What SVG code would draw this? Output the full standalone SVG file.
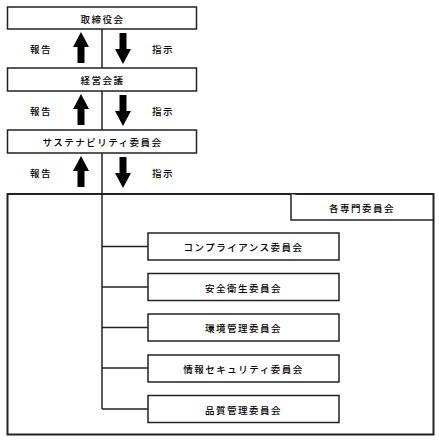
<svg xmlns="http://www.w3.org/2000/svg" width="439" height="442" viewBox="0 0 439 442">
<style>
.box{fill:#fff;stroke:#222;stroke-width:1.5}
.outer{fill:none;stroke:#222;stroke-width:2}
.line{fill:none;stroke:#222;stroke-width:1.5}
.arrow{fill:#000}
text{font-family:"Noto Sans CJK JP","Noto Sans",sans-serif;font-size:9.5px;font-weight:500;letter-spacing:1.5px;fill:#000;text-anchor:middle;dominant-baseline:central}
</style>
<defs>
<path id="up" d="M0,0 L8,15 L3.5,15 L3.5,31 L-3.5,31 L-3.5,15 L-8,15 Z"/>
<path id="down" d="M0,31 L8,16 L3.5,16 L3.5,0 L-3.5,0 L-3.5,16 L-8,16 Z"/>
</defs>
<g id="outer-frame">
<rect class="outer" x="7.5" y="194" width="426" height="240.5"/>
</g>
<g id="connectors">
<path class="line" d="M102,29 V409"/>
<path class="line" d="M102,246.5 H148 M102,287 H148 M102,327.5 H148 M102,368 H148 M102,409 H148"/>
<g class="arrow">
<use href="#up" x="81" y="32"/><use href="#down" x="123" y="33"/>
<use href="#up" x="81" y="94"/><use href="#down" x="123" y="95"/>
<use href="#up" x="81" y="156"/><use href="#down" x="123" y="157"/>
</g>
</g>
<g id="labels">
<text x="41" y="49">報告</text><text x="163" y="49">指示</text>
<text x="41" y="111">報告</text><text x="163" y="111">指示</text>
<text x="41" y="173">報告</text><text x="163" y="173">指示</text>
</g>
<g id="board"><rect class="box" x="7.5" y="7" width="189" height="22"/><text x="102.5" y="18.5">取締役会</text></g>
<g id="management"><rect class="box" x="7.5" y="68" width="189" height="23"/><text x="102.5" y="80">経営会議</text></g>
<g id="sustainability"><rect class="box" x="7.5" y="130" width="189" height="23"/><text x="102.5" y="142">サステナビリティ委員会</text></g>
<g id="committees-header"><path class="box" d="M291,194 V220 H433"/><text x="362" y="207.5">各専門委員会</text></g>
<g id="compliance"><rect class="box" x="148" y="233" width="191" height="27"/><text x="243.5" y="247">コンプライアンス委員会</text></g>
<g id="safety"><rect class="box" x="148" y="273.5" width="191" height="27"/><text x="243.5" y="287.5">安全衛生委員会</text></g>
<g id="environment"><rect class="box" x="148" y="314" width="191" height="27"/><text x="243.5" y="328">環境管理委員会</text></g>
<g id="infosec"><rect class="box" x="148" y="355" width="191" height="27"/><text x="243.5" y="369">情報セキュリティ委員会</text></g>
<g id="quality"><rect class="box" x="148" y="395.5" width="191" height="27"/><text x="243.5" y="409.5">品質管理委員会</text></g>
</svg>
